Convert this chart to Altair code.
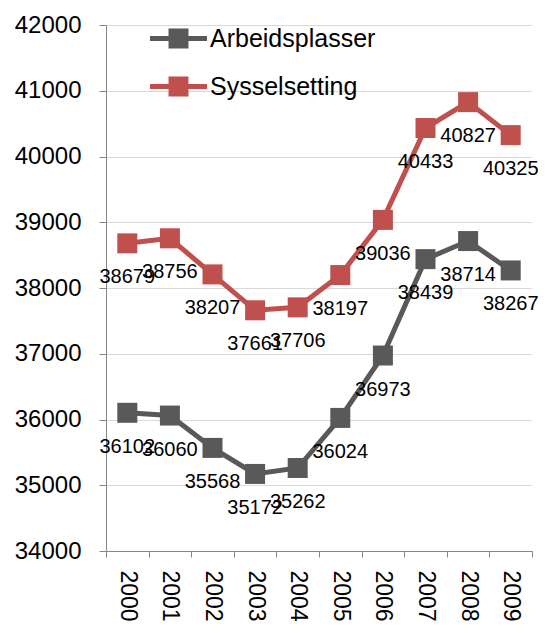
import altair as alt
import pandas as pd

years = ["2000", "2001", "2002", "2003", "2004", "2005", "2006", "2007", "2008", "2009"]
arbeidsplasser = [36102, 36060, 35568, 35172, 35262, 36024, 36973, 38439, 38714, 38267]
sysselsetting = [38679, 38756, 38207, 37661, 37706, 38197, 39036, 40433, 40827, 40325]
series_names = ["Arbeidsplasser", "Sysselsetting"]
series_colors = ["#595959", "#C0504D"]
y_ticks = list(range(34000, 42001, 1000))

rows = []
for name, vals in zip(series_names, [arbeidsplasser, sysselsetting]):
    for yr, v in zip(years, vals):
        rows.append({"year": yr, "value": v, "series": name, "line_series": name})
df = pd.DataFrame(rows)

FONT = "Liberation Sans"
AX = "#868686"

x_enc = alt.X(
    "year:N",
    bandPosition=0.5,
    scale=alt.Scale(type="band", paddingInner=0, paddingOuter=0),
    axis=alt.Axis(
        title=None, grid=False, tickBand="extent", labelAngle=90,
        labelFontSize=23, labelFont=FONT, labelColor="black",
        domainColor=AX, tickColor=AX, tickSize=6, labelPadding=13,
    ),
)
y_enc = alt.Y(
    "value:Q",
    scale=alt.Scale(domain=[34000, 42000], nice=False, zero=False),
    axis=alt.Axis(
        title=None, values=y_ticks, format="d", gridColor="#D9D9D9",
        labelFontSize=24, labelFont=FONT, labelColor="black",
        domainColor=AX, tickColor=AX, tickSize=7, labelPadding=18,
    ),
)

sym_path = ("M-1,-0.09 L1,-0.09 L1,0.09 L-1,0.09 Z "
            "M-0.35,-0.35 L0.35,-0.35 L0.35,0.35 L-0.35,0.35 Z")

base = alt.Chart(df)

# stroke scale keeps a data-driven domain so its (disabled) legend is not merged with the colour legend
lines = base.mark_line(strokeWidth=5).encode(
    x=x_enc, y=y_enc,
    stroke=alt.Stroke("line_series:N", scale=alt.Scale(range=series_colors), legend=None),
)
points = base.mark_square(size=400, filled=True, opacity=1).encode(
    x=x_enc, y=y_enc,
    color=alt.Color(
        "series:N", scale=alt.Scale(domain=series_names, range=series_colors),
        legend=alt.Legend(
            title=None, orient="none", legendX=44, legendY=-15, padding=0,
            symbolType=sym_path, symbolSize=3249, symbolStrokeWidth=0,
            symbolOpacity=1, labelFontSize=25, labelFont=FONT, labelLimit=400,
            labelColor="black", labelOffset=3, rowPadding=6,
        ),
    ),
)
labels = base.mark_text(dy=34, fontSize=20, font=FONT, color="black").encode(
    x=x_enc, y=y_enc, text=alt.Text("value:Q", format="d"),
)

chart = alt.layer(lines, points, labels).properties(
    width=426, height=526,
    autosize=alt.AutoSizeParams(type="none"),
    padding={"left": 98, "top": 17, "right": 7, "bottom": 70},
).configure_view(stroke=None)

chart.save("out.html", embed_options={"renderer": "svg", "actions": False})
